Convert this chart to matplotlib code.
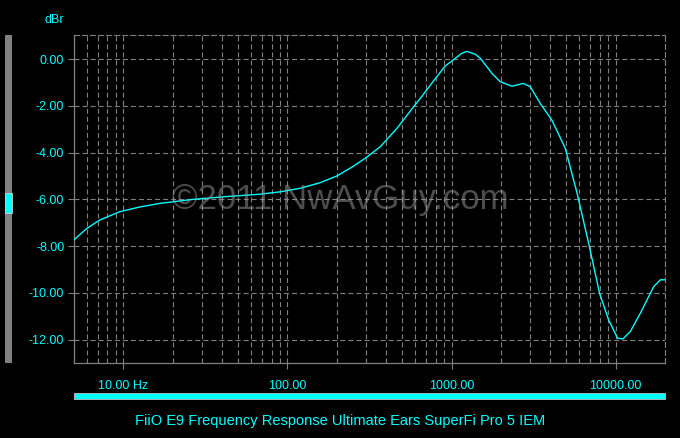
import numpy as np
import matplotlib
matplotlib.use("Agg")
import matplotlib.pyplot as plt
from matplotlib.patches import Rectangle
from matplotlib.ticker import FixedLocator, LogLocator, NullFormatter

# datos (frecuencia en Hz, nivel en dBr)
freq = [5, 6, 7.2, 9.5, 12.5, 16.8, 26.7, 42.7, 68, 90, 119, 158, 200, 250,
        298, 368, 465, 587, 645, 780, 914, 1050, 1150, 1242, 1400, 1500, 1763,
        1981, 2335, 2735, 3020, 3475, 4090, 4935, 5820, 6845, 7980, 9060,
        10280, 11090, 12300, 14150, 17070, 18760, 20000]
dbr = [-7.73, -7.24, -6.88, -6.53, -6.33, -6.17, -6.0, -5.88, -5.78, -5.68,
       -5.53, -5.29, -5.0, -4.6, -4.24, -3.75, -2.96, -2.04, -1.68, -0.92,
       -0.3, 0.02, 0.24, 0.33, 0.2, 0.03, -0.61, -0.97, -1.16, -1.04, -1.18,
       -1.9, -2.61, -3.82, -5.73, -7.87, -10.01, -11.15, -11.94, -11.97,
       -11.65, -10.87, -9.73, -9.44, -9.44]

yticks = [0, -2, -4, -6, -8, -10, -12]
xticks = [10, 100, 1000, 10000]
xlabels = ["10.00 Hz", "100.00", "1000.00", "10000.00"]
titulo = "FiiO E9 Frequency Response Ultimate Ears SuperFi Pro 5 IEM"
marca = "\u00a92011 NwAvGuy.com"

cian = "#00ffff"
gris = "#808080"
plt.rcParams["font.family"] = ["Liberation Sans", "DejaVu Sans"]
plt.rcParams["lines.scale_dashes"] = False

W, H = 680, 438
fig = plt.figure(figsize=(W / 100, H / 100), dpi=100, facecolor="black")
# ejes en pixeles: x 74..665, y 35..363
ax = fig.add_axes([74 / W, 1 - 363 / H, (665 - 74) / W, (363 - 35) / H],
                  facecolor="black")

ax.plot(freq, dbr, color=cian, lw=1.0, zorder=3)

ax.set_xscale("log")
ax.set_xlim(5, 20000)
ax.set_ylim(-13, 1.03)

ax.xaxis.set_major_locator(FixedLocator(xticks))
ax.set_xticklabels(xlabels)
ax.xaxis.set_minor_locator(LogLocator(base=10, subs=np.arange(2, 10)))
ax.xaxis.set_minor_formatter(NullFormatter())
ax.set_yticks(yticks)
ax.set_yticklabels(["%.2f" % v for v in yticks])

dash = (0, (3.6, 2.2))
ax.grid(True, which="both", axis="x", color=gris, lw=0.8, linestyle=dash)
ax.grid(True, which="major", axis="y", color=gris, lw=0.8, linestyle=dash)

ax.tick_params(axis="both", which="major", colors=gris, labelcolor=cian,
               labelsize=9, length=4, width=0.8, direction="out")
ax.tick_params(axis="x", which="major", pad=8)
ax.tick_params(axis="y", which="major", pad=3)
ax.tick_params(axis="x", which="minor", length=0)

for s in ["left", "bottom"]:
    ax.spines[s].set_color(gris)
    ax.spines[s].set_linewidth(0.9)
for s in ["top", "right"]:
    ax.spines[s].set_color(gris)
    ax.spines[s].set_linewidth(0.8)
    ax.spines[s].set_linestyle(dash)

# etiqueta dBr
fig.text(54 / W, 1 - 20 / H, "dBr", color=cian, fontsize=9,
         ha="center", va="center")

# marca de agua
fig.text(340 / W, 1 - 200 / H, marca, color="#9a9a9a", alpha=0.5,
         fontsize=25, ha="center", va="center", zorder=10)

# barra lateral con cursor
fig.patches.append(Rectangle((5 / W, 1 - 363 / H), 7 / W, 328 / H,
                             transform=fig.transFigure, facecolor=gris,
                             edgecolor="none"))
fig.patches.append(Rectangle((5 / W, 1 - 213 / H), 7 / W, 20 / H,
                             transform=fig.transFigure, facecolor=cian,
                             edgecolor="#d0d0d0", lw=0.6))

# barra inferior
fig.patches.append(Rectangle((74 / W, 1 - 399 / H), (665 - 74) / W, 6 / H,
                             transform=fig.transFigure, facecolor=cian,
                             edgecolor="#c0c0c0", lw=0.6))

fig.text(340 / W, 1 - 421 / H, titulo, color=cian, fontsize=10.5,
         ha="center", va="center")

fig.savefig("out.png", dpi=100, facecolor="black")
